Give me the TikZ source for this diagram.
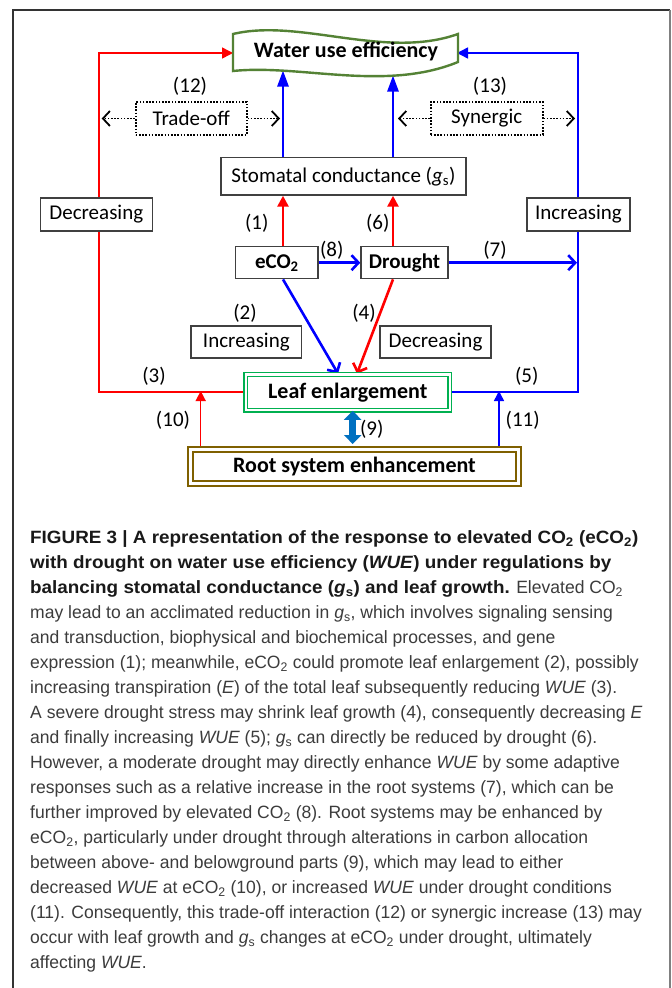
\documentclass[tikz,border=0pt]{standalone}
\usepackage{fontspec}
\setmainfont{Carlito}
\newfontfamily\capfont[FakeStretch=0.985]{Liberation Sans}
\newfontfamily\capbold[FakeStretch=1.06, UprightFont={* Bold}, ItalicFont={* Bold Italic}]{Liberation Sans}
\usetikzlibrary{arrows.meta}
\pgfdeclarelayer{back}
\pgfdeclarelayer{bg}
\pgfsetlayers{back,bg,main}
\definecolor{boxgray}{RGB}{64,64,64}
\definecolor{wuegreen}{RGB}{84,130,53}
\definecolor{leafgreen}{RGB}{0,176,80}
\definecolor{rootbrown}{RGB}{127,96,0}
\definecolor{arrblue}{RGB}{0,112,192}
\definecolor{capgray}{RGB}{60,60,60}
\definecolor{capblack}{RGB}{25,25,25}
\begin{document}
\begin{tikzpicture}[x=1pt,y=-1pt,
  box/.style={draw=boxgray, line width=1.4pt, fill=white, inner sep=0pt, font=\fontsize{21}{25}\selectfont},
  bbox/.style={box, font=\fontsize{21}{25}\selectfont\bfseries},
  lbl/.style={inner sep=0pt, font=\fontsize{21}{25}\selectfont},
  dbox/.style={draw=black, dash pattern=on 1.6pt off 1.6pt, line width=1.6pt, fill=white, inner sep=0pt, font=\fontsize{21}{25}\selectfont},
  leafbox/.style={draw=leafgreen, double=white, double distance=2.5pt, line width=1.3pt, fill=white, inner sep=0pt, font=\fontsize{22}{26}\selectfont\bfseries},
  rootbox/.style={draw=rootbrown, double=white, double distance=2.5pt, line width=2pt, fill=white, inner sep=0pt, font=\fontsize{22}{26}\selectfont\bfseries},
  fatred/.style={draw=red, line width=2.6pt, -{Triangle[length=11pt,width=11pt]}},
  fatblue/.style={draw=blue, line width=2.6pt, -{Triangle[length=16pt,width=11pt]}},
  openblue/.style={draw=blue, line width=2.6pt, -{Straight Barb[length=7pt,width=15pt]}},
  openred/.style={draw=red, line width=2.6pt, -{Straight Barb[length=7pt,width=15pt]}},
  thinred/.style={draw=red, line width=1.5pt},
  thinblue/.style={draw=blue, line width=1.5pt},
  dotarr/.style={draw=black, dash pattern=on 1.6pt off 1.6pt, line width=1.6pt, -{Straight Barb[length=7pt,width=15pt,line width=1.8pt]}},
  dblarrow/.style={draw=arrblue, line width=6.5pt, {Triangle[length=9pt,width=17pt]}-{Triangle[length=9pt,width=17pt]}},
  captext/.style={inner sep=0pt, anchor=base west, text=capgray, font=\capfont\fontsize{17.8}{24}\selectfont},
  captextb/.style={captext, text=capblack, font=\capbold\fontsize{17.8}{24}\selectfont}
]
\useasboundingbox (0,0) rectangle (672,988);
\begin{pgfonlayer}{back}
\fill[white] (0,0) rectangle (672,988);
\end{pgfonlayer}
% outer frame
\draw[line width=1.3pt, draw=black!80] (13,988) -- (13,10) -- (670,10);
\draw[line width=1.3pt, draw=black!50] (670,10) -- (670,988);

% named coordinates
\coordinate (xL) at (283,0);
\coordinate (xR) at (393,0);
\coordinate (cL) at (99,53);
\coordinate (cR) at (578,53);
\coordinate (wueL) at (233,53);
\coordinate (wueR) at (457,53);
\coordinate (wb1) at (283,70.5);
\coordinate (wb2) at (393,75.5);
\coordinate (cA) at (338,0);
\coordinate (cB) at (357,0);
\coordinate (j7) at (577,262.7);
\coordinate (j10) at (200.7,391);
\coordinate (j11) at (499,391);
\coordinate (x9) at (352.7,0);
\coordinate (t1) at (101.7,118.5);
\coordinate (t2) at (280,118.5);
\coordinate (s1) at (398,118.5);
\coordinate (s2) at (575,118.5);

% WUE wave
\draw[draw=wuegreen, line width=2.4pt, fill=white]
  (233,34) .. controls (300,18) and (385,60) .. (458,34) -- (458,62)
  .. controls (385,92) and (300,64) .. (233,71) -- cycle;
\node[inner sep=0pt, font=\fontsize{22}{26}\selectfont\bfseries] (wue) at (346,51) {Water use efficiency};

% main nodes
\node[box, minimum width=245pt, minimum height=37.3pt] (stom) at (343.5,176.35) {Stomatal conductance (\textit{g}\textsubscript{s})};
\node[bbox, minimum width=82.3pt, minimum height=32pt] (eco) at (276.85,262.7) {eCO\textsubscript{2}};
\node[bbox, minimum width=87pt, minimum height=32pt] (dro) at (404.5,262.7) {Drought};
\node[leafbox, minimum width=203.9pt, minimum height=35.9pt] (leaf) at (347.8,392.2) {Leaf enlargement};
\node[rootbox, minimum width=327.9pt, minimum height=34.2pt] (root) at (354.5,466.35) {Root system enhancement};

% label boxes
\node[box, minimum width=112pt, minimum height=33pt] (decL) at (96.3,214.5) {Decreasing};
\node[box, minimum width=103pt, minimum height=33pt] (incR) at (578.5,214.5) {Increasing};
\node[box, minimum width=110.7pt, minimum height=32pt] (incM) at (246.35,342) {Increasing};
\node[box, minimum width=111pt, minimum height=32pt] (decM) at (435.5,342) {Decreasing};
\node[dbox, minimum width=111pt, minimum height=33pt] (trade) at (191.2,118.5) {Trade-off};
\node[dbox, minimum width=112pt, minimum height=33pt] (syn) at (486.7,118.5) {Synergic};

% number labels
\node[lbl] (n1) at (256.7,223) {(1)};
\node[lbl] (n2) at (245,313) {(2)};
\node[lbl] (n3) at (154,376.7) {(3)};
\node[lbl] (n4) at (364,313) {(4)};
\node[lbl] (n5) at (526.7,376.7) {(5)};
\node[lbl] (n6) at (377.7,223) {(6)};
\node[lbl] (n7) at (495,250) {(7)};
\node[lbl] (n8) at (331.7,250) {(8)};
\node[lbl] (n9) at (371.7,429) {(9)};
\node[lbl] (n10) at (173,420) {(10)};
\node[lbl] (n11) at (522.7,420) {(11)};
\node[lbl] (n12) at (190,86) {(12)};
\node[lbl] (n13) at (490,86) {(13)};

% connectors (behind nodes)
\begin{pgfonlayer}{bg}
\draw[thinred, -{Triangle[length=11pt,width=11pt]}] (leaf.west) -| (cL) -- (wueL);
\draw[thinblue, -{Triangle[length=11pt,width=11pt]}] (leaf.east) -| (cR) -- (wueR);
\draw[thinred, -{Triangle[length=10pt,width=10pt]}] (root.north -| j10) -- (j10);
\draw[thinblue, -{Triangle[length=10pt,width=10pt]}] (root.north -| j11) -- (j11);
\draw[fatblue] (stom.north -| xL) -- (wb1);
\draw[fatblue] (stom.north -| xR) -- (wb2);
\draw[fatred] (eco.north -| xL) -- (stom.south -| xL);
\draw[fatred] (dro.north -| xR) -- (stom.south -| xR);
\draw[openblue] (eco.east) -- (dro.west);
\draw[openblue] (dro.east) -- (j7);
\draw[openblue] (eco.south -| xL) -- (leaf.north -| cA);
\draw[openred] (dro.south -| xR) -- (leaf.north -| cB);
\end{pgfonlayer}
\draw[dotarr] (trade.west) -- (t1);
\draw[dotarr] (trade.east) -- (t2);
\draw[dotarr] (syn.west) -- (s1);
\draw[dotarr] (syn.east) -- (s2);
\draw[dblarrow, shorten >=4.2pt] (leaf.south -| x9) -- (root.north -| x9);

% caption
\node[captextb] (c1) at (30,543.5) {FIGURE 3 | A representation of the response to elevated CO\textsubscript{2} (eCO\textsubscript{2})};
\node[captextb] (c2) at (30,568.5) {with drought on water use efficiency (\textit{WUE}) under regulations by};
\node[captext] (c3) at (30,593.5) {\textcolor{capblack}{\capbold balancing stomatal conductance (\textit{g}\textsubscript{s}) and leaf growth.} Elevated CO\textsubscript{2}};
\node[captext] (c4) at (30,618.5) {may lead to an acclimated reduction in \textit{g}\textsubscript{s}, which involves signaling sensing};
\node[captext] (c5) at (30,643.5) {and transduction, biophysical and biochemical processes, and gene};
\node[captext] (c6) at (30,668.5) {expression (1); meanwhile, eCO\textsubscript{2} could promote leaf enlargement (2), possibly};
\node[captext] (c7) at (30,693.5) {increasing transpiration (\textit{E}) of the total leaf subsequently reducing \textit{WUE} (3).};
\node[captext] (c8) at (30,718.5) {A severe drought stress may shrink leaf growth (4), consequently decreasing \textit{E}};
\node[captext] (c9) at (30,743.5) {and finally increasing \textit{WUE} (5); \textit{g}\textsubscript{s} can directly be reduced by drought (6).};
\node[captext] (c10) at (30,768.5) {However, a moderate drought may directly enhance \textit{WUE} by some adaptive};
\node[captext] (c11) at (30,793.5) {responses such as a relative increase in the root systems (7), which can be};
\node[captext] (c12) at (30,818.5) {further improved by elevated CO\textsubscript{2} (8). Root systems may be enhanced by};
\node[captext] (c13) at (30,843.5) {eCO\textsubscript{2}, particularly under drought through alterations in carbon allocation};
\node[captext] (c14) at (30,868.5) {between above- and belowground parts (9), which may lead to either};
\node[captext] (c15) at (30,893.5) {decreased \textit{WUE} at eCO\textsubscript{2} (10), or increased \textit{WUE} under drought conditions};
\node[captext] (c16) at (30,918.5) {(11). Consequently, this trade-off interaction (12) or synergic increase (13) may};
\node[captext] (c17) at (30,943.5) {occur with leaf growth and \textit{g}\textsubscript{s} changes at eCO\textsubscript{2} under drought, ultimately};
\node[captext] (c18) at (30,968.5) {affecting \textit{WUE}.};
\end{tikzpicture}
\end{document}
